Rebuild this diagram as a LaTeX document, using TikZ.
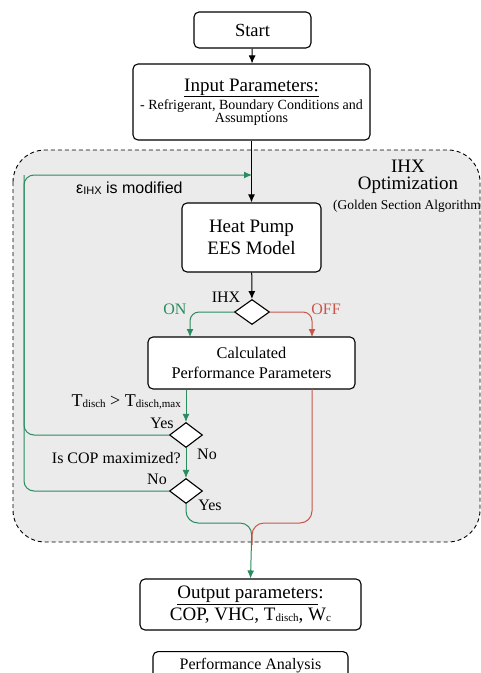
\documentclass[tikz,border=0pt]{standalone}
\usepackage{fontspec}
\setmainfont{Liberation Serif}
\newfontfamily\sansf{Liberation Sans}
\usetikzlibrary{shapes.geometric,arrows.meta,calc}
\definecolor{gline}{RGB}{42,140,95}
\definecolor{rline}{RGB}{200,87,74}
\definecolor{bgfill}{RGB}{235,235,235}
\newcommand\fsz[2]{\fontsize{#1}{#2}\selectfont}
\newcommand\sbs[1]{\raisebox{-1.5pt}{\fsz{11}{11}#1}}
\begin{document}
\begin{tikzpicture}[x=1pt,y=-1pt,
  box/.style={draw, rounded corners=5pt, fill=white, line width=1.1pt, align=center, inner sep=0pt},
  dia/.style={draw, diamond, fill=white, line width=1.1pt, inner sep=0pt, minimum width=35pt, minimum height=25pt},
  arr/.style={line width=1pt, -{Latex[length=8pt,width=7pt]}},
  garr/.style={draw=gline, line width=1pt, -{Latex[length=8pt,width=7pt]}, fill=none},
  gl/.style={draw=gline, line width=1pt},
  rarr/.style={draw=rline, line width=1pt, -{Latex[length=8pt,width=7pt]}},
  rl/.style={draw=rline, line width=1pt},
  lbl/.style={font=\fsz{16}{18}, inner sep=0pt}
]
\useasboundingbox (0,0) rectangle (481,673);
% optimization region
\draw[dash pattern=on 4pt off 3pt, line width=0.9pt, fill=bgfill, rounded corners=32pt] (13,150) rectangle (480,542);
\node[font=\fsz{19}{17}, align=center, inner sep=0pt] (ihxt) at (408,177) {IHX\\Optimization};
\node[font=\fsz{13.5}{15}, anchor=west, inner sep=0pt] (gsa) at (333,206) {(Golden Section Algorithm)};

% nodes
\node[box, minimum width=117pt, minimum height=36pt, font=\fsz{18.5}{22}] (start) at (252.5,30) {Start};
\node[box, minimum width=237pt, minimum height=76pt] (input) at (251.5,102)
  {{\fsz{19}{20}\underline{Input Parameters:}}\\[1pt]{\fsz{14}{16}- Refrigerant, Boundary Conditions and}\\{\fsz{14}{16}Assumptions}};
\node[box, minimum width=139pt, minimum height=69pt, font=\fsz{19}{22}] (hp) at (251.5,237.5) {Heat Pump\\EES Model};
\node[dia] (d0) at (252,312) {};
\node[box, minimum width=207pt, minimum height=52pt, font=\fsz{16.3}{20}] (calc) at (251.5,363) {Calculated\\Performance Parameters};
\node[dia, minimum width=33pt] (d1) at (186,435) {};
\node[dia, minimum width=33pt] (d2) at (186,491) {};
\node[box, minimum width=221pt, minimum height=51pt, font=\fsz{19}{22}] (out) at (250.5,604.5)
  {\underline{Output parameters}:\\COP, VHC, T\sbs{disch}, W\sbs{c}};
\node[box, minimum width=195pt, minimum height=28pt, font=\fsz{16}{18}, anchor=north] (perf) at (250.5,651) {\raisebox{3pt}{Performance Analysis}};

% coordinates
\coordinate (loopc) at (24,175);
\coordinate (hpin) at (252,175);
\coordinate (onin) at (190,337);
\coordinate (offin) at (312,337);
\coordinate (offout) at (312,389);
\coordinate (mj) at (252,523);
\coordinate (mk) at (252,545);

% connectors
\draw[arr] (start) -- (input);
\draw[arr] (input) -- (hp);
\draw[arr] (hp) -- (d0);
\draw[garr, rounded corners=9pt] (d0.west) -| (onin);
\draw[rarr, rounded corners=9pt] (d0.east) -| (offin);
\draw[garr] (d1 |- calc.south) -- (d1.north);
\draw[garr] (d1.south) -- (d2.north);
\draw[gl, rounded corners=10pt] (d1.west) -| (loopc);
\draw[garr, rounded corners=10pt] (d2.west) -| (loopc) -- (hpin);
\draw[rl, rounded corners=12pt] (offout) |- (mj) -- (mk);
\draw[garr, rounded corners=12pt] (d2.south) |- (mj) -- (out.north);

% labels
\node[lbl] (ihxl) at (226,297) {IHX};
\node[lbl, text=gline] (onl) at (175,309) {ON};
\node[lbl, text=rline] (offl) at (326,309) {OFF};
\node[lbl, anchor=west] (epsl) at (76,188) {\sansf ε\sbs{IHX} is modified};
\node[lbl, anchor=east] (tl) at (181,402) {\fsz{18}{18}T\sbs{disch} > T\sbs{disch,max}};
\node[lbl] (y1) at (162,423) {Yes};
\node[lbl] (n1) at (207,454) {No};
\node[lbl, anchor=east] (copl) at (181,458) {Is COP maximized?};
\node[lbl] (n2) at (157,479) {No};
\node[lbl] (y2) at (210,505) {Yes};
\end{tikzpicture}
\end{document}
